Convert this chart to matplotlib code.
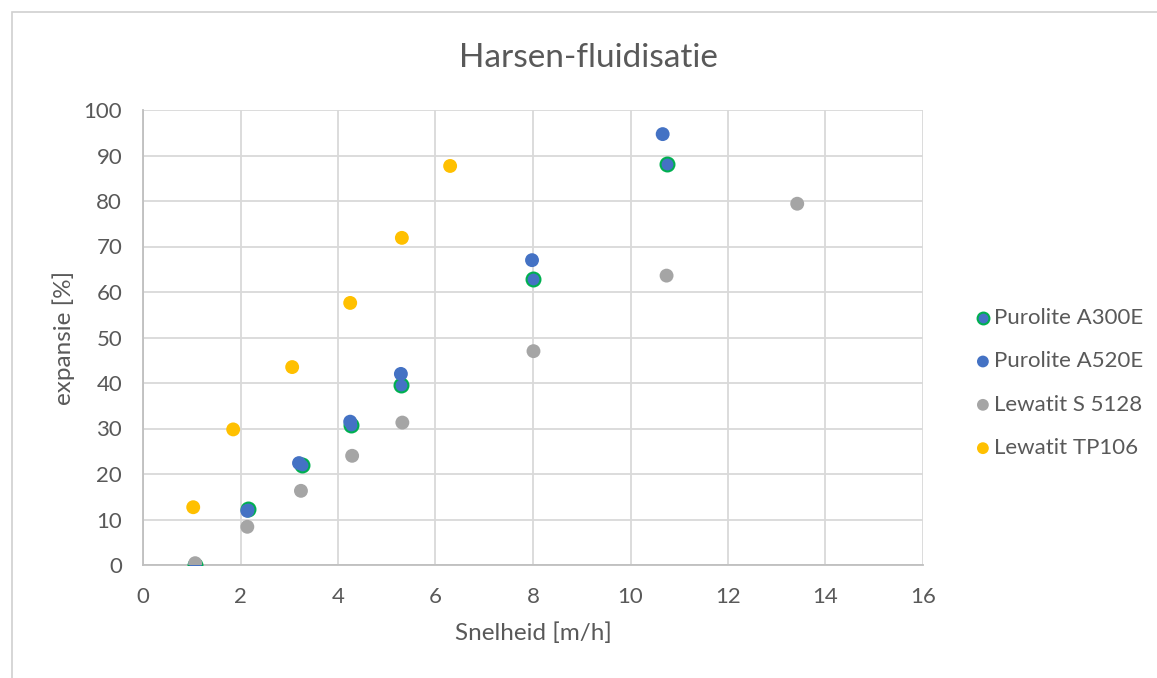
import matplotlib
matplotlib.use("Agg")
import matplotlib.pyplot as plt
from matplotlib.patches import Rectangle

# --- data ---
a300e_x = [1.07, 2.16, 3.26, 4.27, 5.30, 8.01, 10.74]
a300e_y = [0.0, 12.3, 22.0, 30.8, 39.6, 62.8, 88.1]

a520e_x = [1.07, 2.14, 3.20, 4.25, 5.29, 7.98, 10.66]
a520e_y = [0.0, 11.9, 22.4, 31.5, 42.0, 67.0, 94.7]

s5128_x = [1.07, 2.14, 3.24, 4.29, 5.32, 8.01, 10.74, 13.42]
s5128_y = [0.4, 8.4, 16.3, 24.0, 31.3, 47.0, 63.6, 79.4]

tp106_x = [1.03, 1.85, 3.06, 4.25, 5.31, 6.30]
tp106_y = [12.7, 29.8, 43.5, 57.6, 71.9, 87.7]

x_ticks = [0, 2, 4, 6, 8, 10, 12, 14, 16]
y_ticks = [0, 10, 20, 30, 40, 50, 60, 70, 80, 90, 100]

plt.rcParams['font.family'] = ['Lato', 'DejaVu Sans']
text_col = '#595959'

W, H = 1157, 678
fig = plt.figure(figsize=(W / 100, H / 100), dpi=100)
ax = fig.add_axes([143 / W, 1 - 565 / H, 780 / W, 455 / H])

# chart border (cropped on right/bottom like the screenshot)
fig.patches.append(Rectangle((12 / W, -0.01), 1.02, 1 - 12 / H + 0.01,
                             transform=fig.transFigure, fill=False,
                             edgecolor='#d0d0d0', linewidth=1.2))

ms = 100
ax.scatter(a300e_x, a300e_y, s=ms, color='#4472C4', edgecolor='#00B050',
           linewidth=1.5, label='Purolite A300E', zorder=3)
ax.scatter(a520e_x, a520e_y, s=ms, color='#4472C4', edgecolor='none',
           label='Purolite A520E', zorder=3)
ax.scatter(s5128_x, s5128_y, s=ms, color='#A5A5A5', edgecolor='none',
           label='Lewatit S 5128', zorder=3)
ax.scatter(tp106_x, tp106_y, s=ms, color='#FFC000', edgecolor='none',
           label='Lewatit TP106', zorder=3)

ax.set_xlim(0, 16)
ax.set_ylim(0, 100)
ax.set_xticks(x_ticks)
ax.set_yticks(y_ticks)
ax.grid(True, color='#d9d9d9', linewidth=1.3)
ax.set_axisbelow(True)
for side in ['top', 'right']:
    ax.spines[side].set_visible(False)
for side in ['left', 'bottom']:
    ax.spines[side].set_color('#bfbfbf')
    ax.spines[side].set_linewidth(1.3)
ax.tick_params(length=0, labelsize=16, labelcolor=text_col)
ax.tick_params(axis='y', pad=15)
ax.tick_params(axis='x', pad=16)

ax.set_xlabel('Snelheid [m/h]', fontsize=17.5, color=text_col, labelpad=11)
ax.set_ylabel('expansie [%]', fontsize=17.5, color=text_col, labelpad=6)
fig.text(588 / W, 1 - 58 / H, 'Harsen-fluidisatie', fontsize=24,
         color=text_col, ha='center', va='center')

leg = fig.legend(loc='center left', bbox_to_anchor=(974 / W, 1 - 383 / H),
                 frameon=False, fontsize=16, labelcolor=text_col,
                 borderpad=0, borderaxespad=0, handlelength=0.8,
                 handletextpad=0.1, labelspacing=1.05, markerscale=0.85)

fig.savefig('out.png', dpi=100, facecolor='white')
